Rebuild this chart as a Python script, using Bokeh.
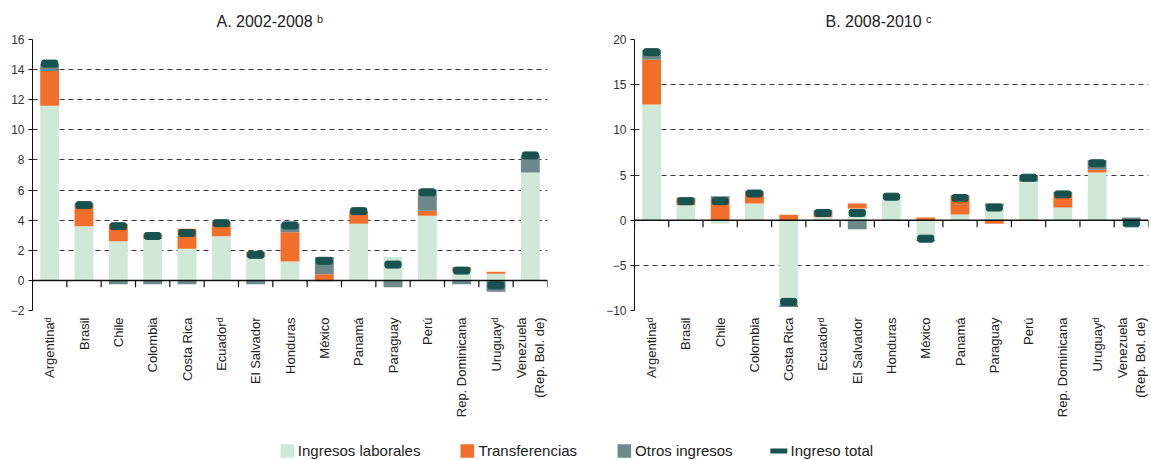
import math
import numpy as np
from bokeh.plotting import figure
from bokeh.models import (Range1d, FixedTicker, ColumnDataSource, Legend, LegendItem, Span)
from bokeh.layouts import column, row
from bokeh.embed import file_html
from bokeh.resources import INLINE

# ---------------- data ----------------
countries = ["Argentina\u1d48", "Brasil", "Chile", "Colombia", "Costa Rica", "Ecuador\u1d48",
             "El Salvador", "Honduras", "México", "Panamá", "Paraguay", "Perú",
             "Rep. Dominicana", "Uruguay\u1d48", "Venezuela\n(Rep. Bol. de)"]

series_names = ["Ingresos laborales", "Transferencias", "Otros ingresos", "Ingreso total"]

# Panel A: 2002-2008
labor_a = [11.6, 3.6, 2.6, 2.75, 2.1, 2.93, 1.56, 1.25, -0.1, 3.77, 1.56, 4.3, 0.6, 0.44, 7.16]
transf_a = [2.3, 1.4, 1.15, 0.35, 1.33, 0.97, 0.34, 1.95, 0.4, 0.8, 0.0, 0.33, 0.28, 0.13, 0.0]
other_a = [0.5, 0.1, -0.25, -0.25, -0.25, 0.0, -0.25, 0.57, 1.16, 0.05, -0.45, 1.41, -0.25, -0.75, 1.17]
total_a = [14.4, 5.0, 3.6, 2.95, 3.15, 3.8, 1.7, 3.65, 1.3, 4.6, 1.05, 5.85, 0.65, -0.33, 8.3]

# Panel B: 2008-2010
labor_b = [12.8, 1.65, -0.4, 1.84, -9.35, 0.33, 1.3, 2.8, -2.2, 0.62, 1.6, 4.25, 1.4, 5.27, -0.65]
transf_b = [4.95, 0.8, 2.45, 1.16, 0.6, 0.47, 0.55, 0.0, 0.3, 2.08, -0.4, 0.0, 1.5, 0.3, 0.0]
other_b = [1.1, 0.05, 0.2, 0.2, -0.25, 0.3, -1.0, 0.05, -0.1, 0.05, 0.25, 0.75, 0.25, 1.1, 0.3]
total_b = [18.6, 2.1, 2.1, 2.95, -9.05, 0.8, 0.8, 2.6, -2.05, 2.45, 1.4, 4.7, 2.85, 6.3, -0.35]

ticks_a = [-2, 0, 2, 4, 6, 8, 10, 12, 14, 16]
ticks_b = [-10, -5, 0, 5, 10, 15, 20]

# ---------------- style ----------------
FONT = "Liberation Sans"
GREEN = "#cfe8d8"
ORANGE = "#f26f2b"
GREY = "#6d8889"
TEAL = "#17524f"
COLORS = [GREEN, ORANGE, GREY]

N = len(countries)
XPOS = [i + 0.5 for i in range(N)]   # category centres on a numeric scale
BOUNDS = list(range(N + 1))           # category boundaries

FIG_H = 420
BORDER_TOP = 39
BORDER_BOTTOM = 109
FRAME_H = FIG_H - BORDER_TOP - BORDER_BOTTOM
TICK_PX = 7


def stack_signed(series_list):
    pos = np.zeros(N)
    neg = np.zeros(N)
    out = []
    for s in series_list:
        s = np.asarray(s, dtype=float)
        bottom = np.where(s >= 0, pos, neg)
        top = bottom + s
        pos = np.where(s >= 0, top, pos)
        neg = np.where(s < 0, top, neg)
        out.append((bottom, top))
    return out


def make_panel(title, labor, transf, other, total, ticks, width, left, right, toffset):
    p = figure(x_range=Range1d(0, N), y_range=Range1d(ticks[0], ticks[-1]),
               width=width, height=FIG_H, output_backend="svg", toolbar_location=None,
               min_border_left=left, min_border_right=right, min_border_top=BORDER_TOP,
               min_border_bottom=BORDER_BOTTOM)
    p.outline_line_color = None
    p.background_fill_color = "white"
    p.title.text = title
    p.title.align = "left"
    p.title.offset = toffset
    p.title.text_font = FONT
    p.title.text_font_size = "16px"
    p.title.text_font_style = "normal"
    p.title.text_color = "#222222"
    p.title.standoff = 20

    for (b, t), c in zip(stack_signed([labor, transf, other]), COLORS):
        src = ColumnDataSource(dict(x=XPOS, bottom=b, top=t))
        p.vbar(x="x", bottom="bottom", top="top", width=0.55, source=src,
               fill_color=c, line_color=None)

    msrc = ColumnDataSource(dict(x=XPOS, y=total))
    p.rect(x="x", y="y", width=0.47, height=7, height_units="screen", source=msrc,
           fill_color=TEAL, line_color=TEAL, border_radius=2)

    # y axis
    yax = p.yaxis[0]
    yax.ticker = FixedTicker(ticks=ticks)
    yax.major_tick_out = 4
    yax.major_tick_in = 0
    yax.minor_tick_line_color = None
    yax.axis_line_color = "#111111"
    yax.major_tick_line_color = "#111111"
    yax.major_label_text_font = FONT
    yax.major_label_text_font_size = "12px"
    yax.major_label_text_color = "#333333"
    yax.major_label_standoff = 4

    p.ygrid.ticker = FixedTicker(ticks=ticks)
    p.ygrid.grid_line_color = "#3a3a3a"
    p.ygrid.grid_line_dash = "5 4"
    p.ygrid.grid_line_width = 1
    p.xgrid.visible = False

    # category labels
    xax = p.xaxis[0]
    xax.ticker = FixedTicker(ticks=XPOS)
    xax.major_label_overrides = {x: name for x, name in zip(XPOS, countries)}
    xax.major_label_orientation = math.pi / 2
    xax.axis_line_color = None
    xax.major_tick_line_color = None
    xax.major_tick_out = 0
    xax.major_tick_in = 0
    xax.minor_tick_line_color = None
    xax.minor_tick_out = 0
    xax.minor_tick_in = 0
    xax.major_label_text_font = FONT
    xax.major_label_text_font_size = "13px"
    xax.major_label_text_color = "#222222"
    xax.major_label_standoff = 7

    # zero line with small downward ticks at the category boundaries
    tick_len = TICK_PX * (ticks[-1] - ticks[0]) / FRAME_H
    p.segment(x0=BOUNDS, y0=[0] * len(BOUNDS), x1=BOUNDS, y1=[-tick_len] * len(BOUNDS),
              line_color="#111111", line_width=1.2)
    p.add_layout(Span(location=0, dimension="width", line_color="#111111", line_width=1.5))
    return p


p1 = make_panel("A. 2002-2008 \u1d47", labor_a, transf_a, other_a, total_a, ticks_a,
                598, 32, 51, 184)
p2 = make_panel("B. 2008-2010 \u1d9c", labor_b, transf_b, other_b, total_b, ticks_b,
                553, 36, 3, 191)

# legend strip (dummy glyphs sit outside the visible range; only swatches show)
leg = figure(width=1151, height=40, output_backend="svg", toolbar_location=None,
             x_range=Range1d(0, 1), y_range=Range1d(0, 1), min_border=0)
leg.axis.visible = False
leg.grid.visible = False
leg.outline_line_color = None
dummy = ColumnDataSource(dict(x=[-5, -4], y=[-5, -4]))
renderers = []
for c in COLORS:
    renderers.append(leg.vbar(x="x", top="y", width=1, source=dummy, fill_color=c, line_color=None))
renderers.append(leg.line(x="x", y="y", source=dummy, line_width=5, line_cap="round", line_color=TEAL))
legend = Legend(items=[LegendItem(label=n, renderers=[r]) for n, r in zip(series_names, renderers)],
                orientation="horizontal", location="bottom_center",
                label_text_font=FONT, label_text_font_size="15px", label_text_color="#222222",
                glyph_width=17, glyph_height=17, spacing=38, label_standoff=3,
                border_line_color=None, background_fill_alpha=0, padding=0, margin=1)
leg.add_layout(legend, "center")

layout = column(row(p1, p2), leg)
open("out.html", "w").write(file_html(layout, INLINE))
